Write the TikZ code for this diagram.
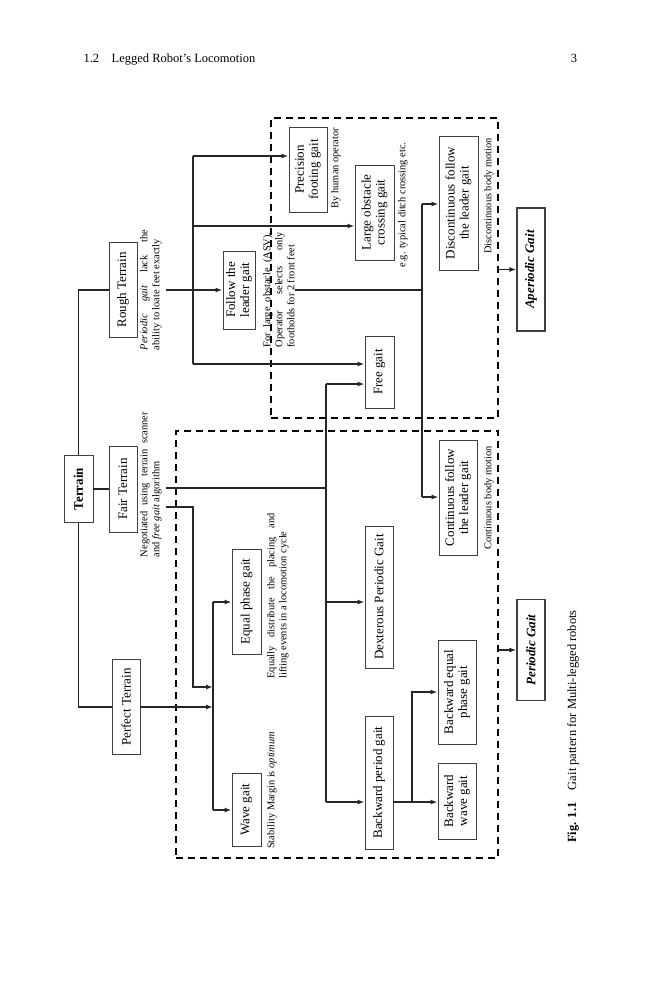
\documentclass[tikz,border=0pt]{standalone}
\usepackage{fontspec}
\setmainfont{Liberation Serif}
\usetikzlibrary{arrows.meta}
\hyphenpenalty=10000

\begin{document}
\begin{tikzpicture}[x=1pt,y=-1pt,
	box/.style={draw=black!75, line width=0.9pt, rotate=90, align=center, inner sep=1pt,
		font=\fontsize{13}{14}\selectfont},
	note/.style={rotate=90, align=justify, inner sep=0pt, font=\fontsize{10.4}{12}\selectfont},
	link/.style={line width=1.5pt, black!85},
	arr/.style={link, -{Latex[length=7pt,width=5pt]}},
	zone/.style={draw, line width=1.4pt, dash pattern=on 7pt off 5pt, inner sep=0pt}]
	\useasboundingbox (0,0) rectangle (659,1000);
	\node[anchor=base west, font=\fontsize{12.5}{14}\selectfont] (head) at (80,63) {1.2\quad Legged Robot's Locomotion};
	\node[anchor=base, font=\fontsize{12.5}{14}\selectfont] (page) at (574,63) {3};
	\node[zone, minimum width=227, minimum height=300] (azone) at (384.5,268) {};
	\node[zone, minimum width=322, minimum height=427] (pzone) at (337,644.5) {};
	\node[box, minimum width=67, minimum height=29, font=\fontsize{13}{14}\selectfont\bfseries] (terrain) at (78.5,489) {Terrain};
	\node[box, minimum width=95, minimum height=28] (rough) at (123,290) {Rough Terrain};
	\node[box, minimum width=86, minimum height=28] (fair) at (123,489) {Fair Terrain};
	\node[box, minimum width=95, minimum height=28] (perfect) at (126,707) {Perfect Terrain};
	\node[note, text width=120, anchor=north] (roughnote) at (140,290) {\textit{Periodic gait} lack the\linebreak ability to loate feet exactly};
	\node[note, text width=145, anchor=north] (fairnote) at (140,484.5) {Negotiated using terrain scanner\linebreak and \textit{free gait} algorithm};
	\node[box, minimum width=78, minimum height=32] (follow) at (239,290) {Follow the\\leader gait};
	\node[note, text width=115, anchor=north] (follownote) at (263,290) {For large obstacle (ASV),\linebreak Operator selects only\linebreak footholds for 2 front feet};
	\node[box, minimum width=85, minimum height=38] (precision) at (308,169.5) {Precision\\footing gait};
	\node[note, align=center, anchor=north] (precnote) at (331,168) {By human operator};
	\node[box, minimum width=95, minimum height=39] (large) at (374.5,212.5) {Large obstacle\\crossing gait};
	\node[note, align=center, anchor=north] (largenote) at (398,205) {e.g. typical ditch crossing etc.};
	\node[box, minimum width=72, minimum height=29] (free) at (379.5,372) {Free gait};
	\node[box, minimum width=134, minimum height=39] (discont) at (458.5,203) {Discontinuous follow\\the leader gait};
	\node[note, align=center, anchor=north] (discnote) at (484,196) {Discontinuous body motion};
	\node[box, minimum width=115, minimum height=38] (cont) at (458,497.5) {Continuous follow\\the leader gait};
	\node[note, align=center, anchor=north] (contnote) at (484,498) {Continuous body motion};
	\node[box, minimum width=105, minimum height=29] (equal) at (246.5,601.5) {Equal phase gait};
	\node[note, text width=165, anchor=north] (equalnote) at (267,596) {Equally distribute the placing and\linebreak lifting events in a locomotion cycle};
	\node[box, minimum width=73, minimum height=29] (wave) at (246.5,809.5) {Wave gait};
	\node[note, align=center, anchor=north west] (wavenote) at (267,849) {Stability Margin is \textit{optimum}};
	\node[box, minimum width=142, minimum height=28] (dext) at (379,597) {Dexterous Periodic Gait};
	\node[box, minimum width=133, minimum height=28] (backp) at (379,782.5) {Backward period gait};
	\node[box, minimum width=104, minimum height=38] (backeq) at (457,692) {Backward equal\\phase gait};
	\node[box, minimum width=76, minimum height=38] (backwave) at (457,801) {Backward\\wave gait};
	\node[box, minimum width=123, minimum height=28, line width=1.2pt, font=\fontsize{13}{14}\selectfont\bfseries\itshape] (aper) at (531,269.5) {Aperiodic Gait};
	\node[box, minimum width=101, minimum height=28, line width=1.2pt, font=\fontsize{13}{14}\selectfont\bfseries\itshape] (per) at (531,650) {Periodic Gait};
	\node[rotate=90, anchor=base west, inner sep=0pt, font=\fontsize{12.5}{14}\selectfont] (caption) at (576,843) {\textbf{Fig. 1.1}\quad Gait pattern for Multi-legged robots};
	\coordinate (rtop) at (193,156);
	\coordinate (rmid) at (193,226);
	\coordinate (rbot) at (193,364);
	\coordinate (ftop) at (422,204);
	\coordinate (fbot) at (422,497);
	\coordinate (fa) at (166,488);
	\coordinate (fb) at (166,507);
	\coordinate (fbturn) at (193,687);
	\coordinate (dtop) at (326,384);
	\coordinate (dmid) at (326,602);
	\coordinate (dbot) at (326,802);
	\coordinate (etop) at (213,602);
	\coordinate (ebot) at (213,810);
	\coordinate (bj) at (412,802);
	\draw[link] (rough.north) -| (terrain.east);
	\draw[link] (perfect.north) -| (terrain.west);
	\draw[link] (terrain.south) -- (fair.north);
	\draw[arr, shorten <=4pt] (roughnote.south) -- (follow.north);
	\draw[link] (rtop) -- (rbot);
	\draw[arr] (rtop) -- (rtop -| precision.north);
	\draw[arr] (rmid) -- (rmid -| large.north);
	\draw[arr] (rbot) -- (rbot -| free.north);
	\draw[link] (follownote.south) -- (follownote.south -| ftop);
	\draw[link] (ftop) -- (fbot);
	\draw[arr] (ftop) -- (ftop -| discont.north);
	\draw[arr] (fbot) -- (fbot -| cont.north);
	\draw[link] (fa) -- (fa -| dtop);
	\draw[link] (dtop) -- (dbot);
	\draw[arr] (dtop) -- (dtop -| free.north);
	\draw[arr] (dmid) -- (dmid -| dext.north);
	\draw[arr] (dbot) -- (dbot -| backp.north);
	\draw[arr] (fb) -| (fbturn) -- (fbturn -| etop);
	\draw[arr] (perfect.south) -- (perfect.south -| etop);
	\draw[link] (etop) -- (ebot);
	\draw[arr] (etop) -- (etop -| equal.north);
	\draw[arr] (ebot) -- (ebot -| wave.north);
	\draw[arr] (dbot -| backp.south) -- (dbot -| backwave.north);
	\draw[arr] (bj) |- (backeq.north);
	\draw[arr] (azone.east |- aper) -- (aper.north);
	\draw[arr] (pzone.east |- per) -- (per.north);
\end{tikzpicture}
\end{document}
